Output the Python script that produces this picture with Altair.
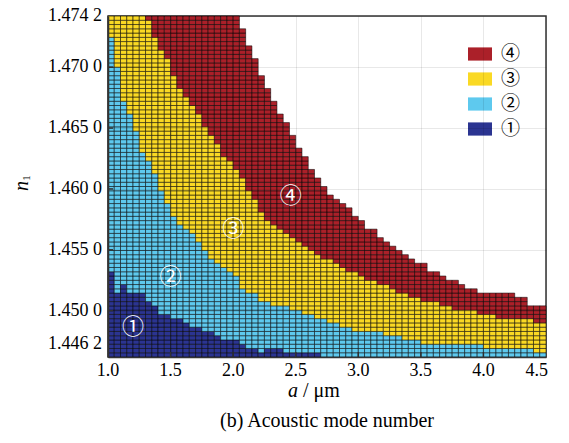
import altair as alt
import pandas as pd

alt.data_transformers.disable_max_rows()

# ---- grid definition (a columns, n1 rows) ----
A_START, A_STEP, N_COLS = 1.0, 0.05, 70
N_START, N_STEP, N_ROWS = 1.4462, 0.00035, 80

# ---- per-column band tops (number of rows from the bottom) ----
top_mode1 = [20, 15, 17, 15, 15, 15, 13, 12, 10, 10,
             9, 9, 8, 7, 7, 6, 6, 5, 4, 4,
             4, 3, 2, 2, 1, 2, 2, 2, 1, 1,
             1, 1, 1, 1, 0, 0, 0, 0, 0, 0,
             0, 0, 0, 0, 0, 0, 0, 0, 0, 0,
             0, 0, 0, 0, 0, 0, 0, 0, 0, 0,
             0, 0, 0, 0, 0, 0, 0, 0, 0, 0]
top_mode2 = [75, 68, 60, 57, 53, 48, 46, 43, 39, 36,
             33, 31, 30, 29, 27, 25, 23, 22, 21, 20,
             19, 16, 15, 15, 13, 13, 12, 12, 12, 11,
             11, 10, 10, 9, 9, 8, 8, 7, 7, 6,
             6, 6, 6, 6, 5, 5, 5, 4, 4, 4,
             3, 3, 3, 3, 3, 3, 3, 3, 3, 3,
             2, 2, 2, 2, 2, 2, 2, 2, 1, 1]
top_mode3 = [80, 80, 80, 80, 80, 80, 79, 75, 72, 70,
             66, 63, 61, 59, 57, 54, 52, 50, 47, 46,
             44, 42, 39, 37, 34, 32, 31, 30, 29, 28,
             27, 26, 25, 24, 23, 23, 22, 21, 20, 20,
             19, 18, 18, 17, 17, 16, 15, 15, 14, 14,
             13, 13, 13, 12, 12, 11, 11, 11, 11, 10,
             10, 10, 9, 9, 9, 9, 9, 9, 8, 8]
top_mode4 = [80, 80, 80, 80, 80, 80, 80, 80, 80, 80,
             80, 80, 80, 80, 80, 80, 80, 80, 80, 80,
             80, 77, 73, 70, 66, 63, 60, 57, 55, 52,
             49, 47, 44, 42, 40, 38, 37, 36, 35, 33,
             32, 30, 30, 28, 27, 26, 25, 24, 23, 22,
             22, 20, 20, 19, 18, 18, 17, 16, 16, 15,
             15, 15, 15, 15, 15, 14, 14, 12, 12, 12]

mode_labels = ["④", "③", "②", "①"]
mode_colors = ["#ab2029", "#fad924", "#5ec9ee", "#2b3491"]

# tick values / labels
x_ticks = [1.0, 1.5, 2.0, 2.5, 3.0, 3.5, 4.0, 4.5]
x_tick_labels = ["1.0", "1.5", "2.0", "2.5", "3.0", "3.5", "4.0", "4.5"]
y_ticks = [1.4462, 1.4500, 1.4550, 1.4600, 1.4650, 1.4700, 1.4742]
y_tick_labels = ["1.446 2", "1.450 0", "1.455 0", "1.460 0",
                 "1.465 0", "1.470 0", "1.474 2"]

# in-plot annotations
annot_a = [1.20, 1.50, 2.00, 2.46]
annot_n = [1.44868, 1.45278, 1.45672, 1.45943]
annot_text = ["①", "②", "③", "④"]

# ---- build cell table ----
cells = []
for i in range(N_COLS):
    for j in range(top_mode4[i]):
        if j < top_mode1[i]:
            m = "①"
        elif j < top_mode2[i]:
            m = "②"
        elif j < top_mode3[i]:
            m = "③"
        else:
            m = "④"
        cells.append({
            "a0": A_START + A_STEP * i,
            "a1": A_START + A_STEP * (i + 1),
            "n0": N_START + N_STEP * j,
            "n1": N_START + N_STEP * (j + 1),
            "mode": m,
        })
df = pd.DataFrame(cells)

SERIF = "Liberation Serif"
CJK = "Noto Sans CJK SC"

xscale = alt.Scale(domain=[1.0, 4.5], nice=False, zero=False)
yscale = alt.Scale(domain=[1.4462, 1.4742], nice=False, zero=False)

x_axis = alt.Axis(values=x_ticks, labels=False, title=None, ticks=False,
                  domainColor="#333", domainWidth=1.5,
                  grid=True, gridColor="black", gridOpacity=0.09, zindex=1)
y_axis = alt.Axis(values=y_ticks, labels=False, title=None, ticks=False,
                  domainColor="#333", domainWidth=1.5,
                  grid=True, gridColor="black", gridOpacity=0.09, zindex=1)

heat = alt.Chart(df).mark_rect(stroke="black", strokeWidth=0.75, strokeOpacity=0.7).encode(
    x=alt.X("a0:Q", scale=xscale, axis=x_axis),
    x2="a1:Q",
    y=alt.Y("n0:Q", scale=yscale, axis=y_axis),
    y2="n1:Q",
    color=alt.Color(
        "mode:N",
        scale=alt.Scale(domain=mode_labels, range=mode_colors),
        legend=alt.Legend(
            orient="none", legendX=360, legendY=26, title=None,
            symbolType="M-1,-0.55H1V0.55H-1Z", symbolSize=576,
            symbolStrokeWidth=0, symbolOpacity=1,
            labelFont=CJK, labelFontSize=19, labelColor="black",
            labelOffset=9, rowPadding=3,
        ),
    ),
)

annot_df = pd.DataFrame({"a": annot_a, "n": annot_n, "t": annot_text})
annot = alt.Chart(annot_df).mark_text(color="white", font=CJK, fontSize=22).encode(
    x=alt.X("a:Q", scale=xscale),
    y=alt.Y("n:Q", scale=yscale),
    text="t:N",
)

# tick labels drawn as text through the scales
ylab_df = pd.DataFrame({"n": y_ticks, "t": y_tick_labels})
ylab_base = alt.Chart(ylab_df).encode(
    y=alt.Y("n:Q", scale=yscale), x=alt.value(-6), text="t:N"
)
ylabels = ylab_base.mark_text(
    font=SERIF, fontSize=18, color="black", align="right", baseline="middle"
).transform_filter("datum.n > 1.447")
ylabel_low = ylab_base.mark_text(
    font=SERIF, fontSize=18, color="black", align="right", baseline="middle", dy=-13
).transform_filter("datum.n < 1.447")

xlab_df = pd.DataFrame({"a": x_ticks, "t": x_tick_labels})
xlab_base = alt.Chart(xlab_df).encode(
    x=alt.X("a:Q", scale=xscale), y=alt.value(346), text="t:N"
)
xlabels = xlab_base.mark_text(
    font=SERIF, fontSize=18, color="black", align="center", baseline="top"
).transform_filter("datum.a < 4.4")
xlabel_end = xlab_base.mark_text(
    font=SERIF, fontSize=18, color="black", align="right", baseline="top", dx=2
).transform_filter("datum.a > 4.4")

# axis titles
xt1 = alt.Chart(pd.DataFrame({"t": ["a"]})).mark_text(
    font=SERIF, fontSize=20, fontStyle="italic", color="black", align="center", baseline="middle"
).encode(x=alt.value(185), y=alt.value(375), text="t:N")
xt2 = alt.Chart(pd.DataFrame({"t": ["/  μm"]})).mark_text(
    font=SERIF, fontSize=20, color="black", align="left", baseline="middle"
).encode(x=alt.value(195), y=alt.value(375), text="t:N")
yt1 = alt.Chart(pd.DataFrame({"t": ["n"]})).mark_text(
    font=SERIF, fontSize=20, fontStyle="italic", color="black", align="center",
    baseline="middle", angle=270
).encode(x=alt.value(-86), y=alt.value(170), text="t:N")
yt2 = alt.Chart(pd.DataFrame({"t": ["1"]})).mark_text(
    font=SERIF, fontSize=11, color="black", align="center",
    baseline="middle", angle=270
).encode(x=alt.value(-81), y=alt.value(162), text="t:N")

# inward tick marks on left and bottom axes
ytick_df = pd.DataFrame({"n": y_ticks[1:-1]})
yticks = alt.Chart(ytick_df).mark_rule(color="#333", strokeWidth=1.5).encode(
    y=alt.Y("n:Q", scale=yscale), x=alt.value(0), x2=alt.value(5)
)
xtick_df = pd.DataFrame({"a": x_ticks[1:-1]})
xticks = alt.Chart(xtick_df).mark_rule(color="#333", strokeWidth=1.5).encode(
    x=alt.X("a:Q", scale=xscale), y=alt.value(341), y2=alt.value(336)
)

chart = alt.layer(
    heat, yticks, xticks, annot, ylabels, ylabel_low, xlabels, xlabel_end, xt1, xt2, yt1, yt2
).properties(
    width=438, height=341,
    padding={"left": 108, "top": 16, "right": 23, "bottom": 86},
    autosize=alt.AutoSizeParams(type="none"),
    title=alt.TitleParams(
        "(b)  Acoustic mode number", orient="bottom", anchor="middle",
        font=SERIF, fontSize=20, fontWeight="normal", color="black", offset=10,
    ),
).configure_view(stroke="#333", strokeWidth=1.5)

chart.save("out.html", embed_options={"renderer": "svg", "actions": False})
